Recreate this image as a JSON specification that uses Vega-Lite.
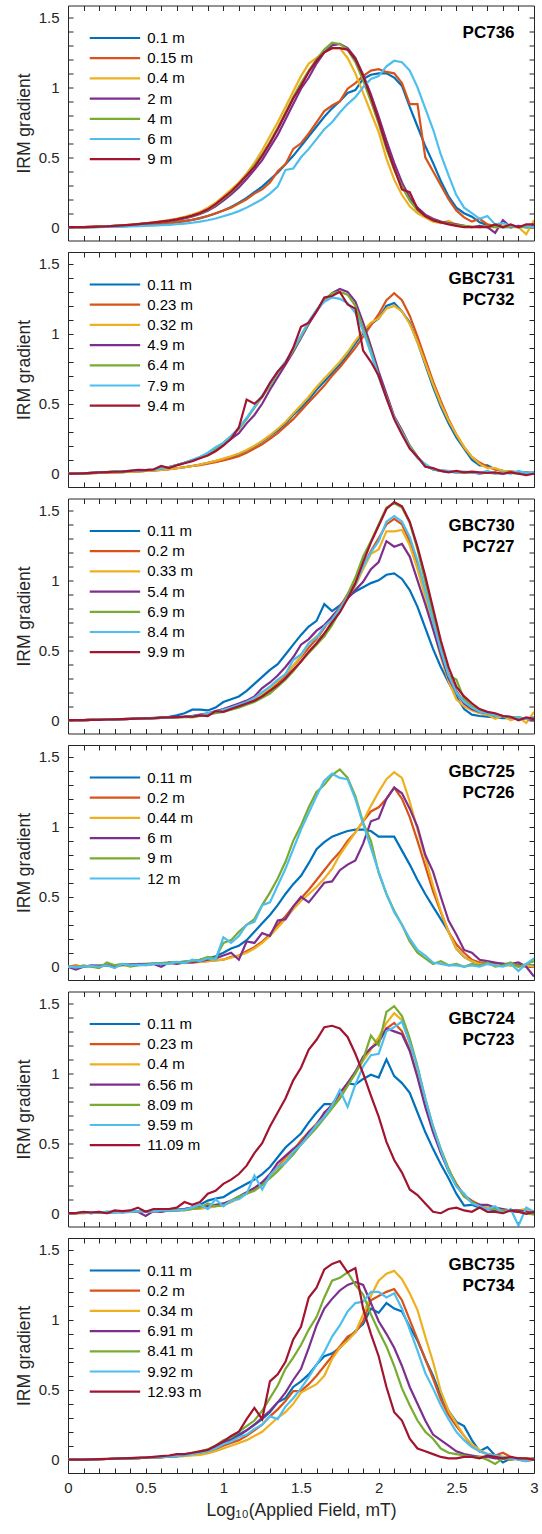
{
"$schema": "https://vega.github.io/schema/vega-lite/v6.json",
"background": "white",
"padding": {"left": 15, "top": 4.5, "right": 0, "bottom": 5},
"spacing": 11.5,
"bounds": "flush",
"config": {
  "font": "Liberation Sans",
  "view": {"stroke": null},
  "axis": {"tickSize": -5, "domainColor": "#262626", "tickColor": "#262626", "labelColor": "#262626", "titleColor": "#262626", "labelFont": "Liberation Sans", "titleFont": "Liberation Sans", "labelFontSize": 15, "titleFontSize": 17.5, "titleFontWeight": "normal", "grid": false, "domainWidth": 1, "tickWidth": 1, "labelFlush": false, "labelOverlap": false, "labelBound": false},
  "legend": {"orient": "none", "legendX": 39.45, "legendY": 25, "title": null, "symbolType": "M-6.3,0H6.3", "symbolSize": 64, "symbolStrokeWidth": 2.8, "labelFontSize": 15, "labelFont": "Liberation Sans", "labelColor": "#000000", "rowPadding": 4.2, "labelOffset": 24.8, "padding": 0},
  "line": {"strokeWidth": 2.2},
  "text": {"font": "Liberation Sans"}
},
"resolve": {"scale": {"color": "independent"}, "legend": {"color": "independent"}},
"datasets": {
"p1": [
{"x":0,"a":0,"b":0,"c":0,"d":0,"e":0,"f":0,"g":0},
{"x":0.05,"a":0,"b":0,"c":0,"d":0,"e":0,"f":0,"g":0},
{"x":0.1,"a":0,"b":0,"c":0,"d":0,"e":0,"f":0,"g":0},
{"x":0.15,"a":0.001,"b":0.001,"c":0.002,"d":0.002,"e":0.002,"f":0.001,"g":0.002},
{"x":0.2,"a":0.002,"b":0.002,"c":0.004,"d":0.004,"e":0.004,"f":0.001,"g":0.004},
{"x":0.25,"a":0.003,"b":0.003,"c":0.007,"d":0.006,"e":0.006,"f":0.002,"g":0.006},
{"x":0.3,"a":0.005,"b":0.005,"c":0.01,"d":0.009,"e":0.01,"f":0.003,"g":0.01},
{"x":0.35,"a":0.007,"b":0.007,"c":0.014,"d":0.012,"e":0.013,"f":0.004,"g":0.013},
{"x":0.4,"a":0.009,"b":0.009,"c":0.018,"d":0.016,"e":0.017,"f":0.005,"g":0.017},
{"x":0.45,"a":0.012,"b":0.012,"c":0.023,"d":0.02,"e":0.022,"f":0.007,"g":0.022},
{"x":0.5,"a":0.015,"b":0.015,"c":0.029,"d":0.025,"e":0.027,"f":0.009,"g":0.027},
{"x":0.55,"a":0.019,"b":0.019,"c":0.035,"d":0.031,"e":0.033,"f":0.011,"g":0.033},
{"x":0.6,"a":0.024,"b":0.024,"c":0.043,"d":0.037,"e":0.04,"f":0.014,"g":0.04},
{"x":0.65,"a":0.029,"b":0.029,"c":0.051,"d":0.044,"e":0.047,"f":0.017,"g":0.047},
{"x":0.7,"a":0.036,"b":0.036,"c":0.061,"d":0.052,"e":0.056,"f":0.021,"g":0.056},
{"x":0.75,"a":0.044,"b":0.044,"c":0.074,"d":0.063,"e":0.068,"f":0.026,"g":0.068},
{"x":0.8,"a":0.053,"b":0.053,"c":0.09,"d":0.077,"e":0.083,"f":0.032,"g":0.083},
{"x":0.85,"a":0.065,"b":0.065,"c":0.11,"d":0.095,"e":0.1,"f":0.04,"g":0.102},
{"x":0.9,"a":0.08,"b":0.08,"c":0.14,"d":0.118,"e":0.125,"f":0.05,"g":0.128},
{"x":0.95,"a":0.098,"b":0.1,"c":0.175,"d":0.15,"e":0.16,"f":0.062,"g":0.165},
{"x":1,"a":0.12,"b":0.12,"c":0.22,"d":0.19,"e":0.205,"f":0.078,"g":0.21},
{"x":1.05,"a":0.145,"b":0.14,"c":0.27,"d":0.235,"e":0.25,"f":0.095,"g":0.255},
{"x":1.1,"a":0.175,"b":0.17,"c":0.32,"d":0.285,"e":0.305,"f":0.115,"g":0.31},
{"x":1.15,"a":0.21,"b":0.2,"c":0.385,"d":0.345,"e":0.37,"f":0.14,"g":0.37},
{"x":1.2,"a":0.25,"b":0.24,"c":0.46,"d":0.41,"e":0.44,"f":0.17,"g":0.43},
{"x":1.25,"a":0.29,"b":0.27,"c":0.55,"d":0.48,"e":0.52,"f":0.2,"g":0.51},
{"x":1.3,"a":0.34,"b":0.32,"c":0.65,"d":0.57,"e":0.61,"f":0.24,"g":0.6},
{"x":1.35,"a":0.39,"b":0.4,"c":0.75,"d":0.66,"e":0.71,"f":0.29,"g":0.7},
{"x":1.4,"a":0.45,"b":0.45,"c":0.86,"d":0.77,"e":0.82,"f":0.41,"g":0.81},
{"x":1.45,"a":0.51,"b":0.56,"c":0.97,"d":0.88,"e":0.93,"f":0.42,"g":0.92},
{"x":1.5,"a":0.58,"b":0.6,"c":1.08,"d":0.99,"e":1.03,"f":0.5,"g":1.01},
{"x":1.55,"a":0.65,"b":0.67,"c":1.17,"d":1.07,"e":1.12,"f":0.56,"g":1.11},
{"x":1.6,"a":0.72,"b":0.75,"c":1.21,"d":1.17,"e":1.2,"f":0.63,"g":1.19},
{"x":1.65,"a":0.79,"b":0.83,"c":1.25,"d":1.25,"e":1.27,"f":0.7,"g":1.25},
{"x":1.7,"a":0.85,"b":0.87,"c":1.28,"d":1.3,"e":1.32,"f":0.75,"g":1.28},
{"x":1.75,"a":0.9,"b":0.9,"c":1.28,"d":1.31,"e":1.31,"f":0.82,"g":1.28},
{"x":1.8,"a":0.96,"b":0.99,"c":1.21,"d":1.28,"e":1.27,"f":0.88,"g":1.27},
{"x":1.85,"a":0.98,"b":1.03,"c":1.1,"d":1.21,"e":1.18,"f":0.93,"g":1.2},
{"x":1.9,"a":1.06,"b":1.08,"c":0.96,"d":1.09,"e":1.05,"f":1.0,"g":1.08},
{"x":1.95,"a":1.09,"b":1.12,"c":0.82,"d":0.95,"e":0.9,"f":1.06,"g":0.93},
{"x":2,"a":1.1,"b":1.13,"c":0.68,"d":0.79,"e":0.74,"f":1.08,"g":0.76},
{"x":2.05,"a":1.1,"b":1.11,"c":0.49,"d":0.62,"e":0.56,"f":1.15,"g":0.58},
{"x":2.1,"a":1.07,"b":1.1,"c":0.34,"d":0.46,"e":0.41,"f":1.19,"g":0.42},
{"x":2.15,"a":1.01,"b":1.03,"c":0.23,"d":0.32,"e":0.29,"f":1.18,"g":0.27},
{"x":2.2,"a":0.86,"b":0.88,"c":0.15,"d":0.21,"e":0.19,"f":1.12,"g":0.25},
{"x":2.25,"a":0.72,"b":0.88,"c":0.1,"d":0.14,"e":0.12,"f":1.0,"g":0.13},
{"x":2.3,"a":0.58,"b":0.5,"c":0.07,"d":0.09,"e":0.08,"f":0.85,"g":0.08},
{"x":2.35,"a":0.46,"b":0.4,"c":0.04,"d":0.06,"e":0.05,"f":0.7,"g":0.05},
{"x":2.4,"a":0.33,"b":0.3,"c":0.03,"d":0.04,"e":0.035,"f":0.52,"g":0.035},
{"x":2.45,"a":0.22,"b":0.2,"c":0.045,"d":0.03,"e":0.025,"f":0.37,"g":0.02},
{"x":2.5,"a":0.14,"b":0.12,"c":0.02,"d":0.02,"e":0.015,"f":0.23,"g":0.01},
{"x":2.55,"a":0.1,"b":0.07,"c":0.01,"d":0.01,"e":0.01,"f":0.14,"g":0},
{"x":2.6,"a":0.075,"b":0.04,"c":0,"d":0,"e":0.005,"f":0.1,"g":0},
{"x":2.65,"a":0.035,"b":0.06,"c":0.01,"d":0.01,"e":0,"f":0.06,"g":0},
{"x":2.7,"a":0.015,"b":0.02,"c":0,"d":0,"e":0.005,"f":0.08,"g":0},
{"x":2.75,"a":0.005,"b":0.01,"c":0,"d":-0.04,"e":0,"f":0.02,"g":0.02},
{"x":2.8,"a":0,"b":0.01,"c":0.01,"d":0.05,"e":0,"f":0.03,"g":0},
{"x":2.85,"a":0,"b":0,"c":0,"d":0,"e":0.005,"f":0.01,"g":0.02},
{"x":2.9,"a":0.005,"b":0.01,"c":0,"d":0.01,"e":0,"f":0,"g":0},
{"x":2.95,"a":0,"b":0,"c":-0.05,"d":0,"e":0,"f":0.01,"g":0.02},
{"x":3,"a":0,"b":0,"c":0.05,"d":0.01,"e":0,"f":0,"g":0.02}
],
"p2": [
{"x":0,"a":0,"b":0,"c":0,"d":0,"e":0,"f":0,"g":0},
{"x":0.05,"a":0,"b":0,"c":0,"d":0,"e":0,"f":0,"g":0},
{"x":0.1,"a":0.002,"b":0.002,"c":0.002,"d":0.003,"e":0.003,"f":0.003,"g":0.003},
{"x":0.15,"a":0.004,"b":0.004,"c":0.004,"d":0.006,"e":0.006,"f":0.006,"g":0.006},
{"x":0.2,"a":0.006,"b":0.006,"c":0.006,"d":0.009,"e":0.009,"f":0.009,"g":0.009},
{"x":0.25,"a":0.008,"b":0.008,"c":0.008,"d":0.012,"e":0.012,"f":0.012,"g":0.012},
{"x":0.3,"a":0.01,"b":0.01,"c":0.01,"d":0.015,"e":0.015,"f":0.015,"g":0.014},
{"x":0.35,"a":0.012,"b":0.012,"c":0.012,"d":0.017,"e":0.017,"f":0.017,"g":0.015},
{"x":0.4,"a":0.014,"b":0.014,"c":0.014,"d":0.02,"e":0.02,"f":0.02,"g":0.02},
{"x":0.45,"a":0.017,"b":0.017,"c":0.017,"d":0.022,"e":0.022,"f":0.022,"g":0.028},
{"x":0.5,"a":0.02,"b":0.02,"c":0.02,"d":0.025,"e":0.025,"f":0.025,"g":0.025},
{"x":0.55,"a":0.024,"b":0.024,"c":0.024,"d":0.03,"e":0.03,"f":0.03,"g":0.03},
{"x":0.6,"a":0.028,"b":0.028,"c":0.028,"d":0.038,"e":0.038,"f":0.038,"g":0.055},
{"x":0.65,"a":0.033,"b":0.033,"c":0.033,"d":0.048,"e":0.048,"f":0.048,"g":0.04},
{"x":0.7,"a":0.039,"b":0.039,"c":0.039,"d":0.062,"e":0.062,"f":0.062,"g":0.06},
{"x":0.75,"a":0.046,"b":0.046,"c":0.046,"d":0.078,"e":0.078,"f":0.078,"g":0.075},
{"x":0.8,"a":0.055,"b":0.055,"c":0.055,"d":0.095,"e":0.095,"f":0.1,"g":0.09},
{"x":0.85,"a":0.065,"b":0.062,"c":0.066,"d":0.115,"e":0.12,"f":0.12,"g":0.11},
{"x":0.9,"a":0.077,"b":0.072,"c":0.078,"d":0.14,"e":0.145,"f":0.15,"g":0.13},
{"x":0.95,"a":0.09,"b":0.083,"c":0.092,"d":0.17,"e":0.18,"f":0.19,"g":0.16},
{"x":1,"a":0.105,"b":0.095,"c":0.108,"d":0.21,"e":0.22,"f":0.22,"g":0.2},
{"x":1.05,"a":0.12,"b":0.11,"c":0.125,"d":0.25,"e":0.27,"f":0.27,"g":0.25},
{"x":1.1,"a":0.14,"b":0.125,"c":0.145,"d":0.29,"e":0.32,"f":0.33,"g":0.33},
{"x":1.15,"a":0.165,"b":0.15,"c":0.17,"d":0.36,"e":0.39,"f":0.4,"g":0.53},
{"x":1.2,"a":0.195,"b":0.18,"c":0.2,"d":0.42,"e":0.47,"f":0.48,"g":0.5},
{"x":1.25,"a":0.23,"b":0.21,"c":0.235,"d":0.5,"e":0.55,"f":0.56,"g":0.55},
{"x":1.3,"a":0.27,"b":0.25,"c":0.275,"d":0.6,"e":0.63,"f":0.64,"g":0.65},
{"x":1.35,"a":0.31,"b":0.29,"c":0.32,"d":0.69,"e":0.72,"f":0.73,"g":0.73},
{"x":1.4,"a":0.36,"b":0.34,"c":0.37,"d":0.78,"e":0.8,"f":0.8,"g":0.79},
{"x":1.45,"a":0.42,"b":0.39,"c":0.43,"d":0.87,"e":0.88,"f":0.89,"g":0.9},
{"x":1.5,"a":0.47,"b":0.45,"c":0.49,"d":0.97,"e":0.98,"f":0.99,"g":1.05},
{"x":1.55,"a":0.53,"b":0.51,"c":0.55,"d":1.07,"e":1.08,"f":1.09,"g":1.08},
{"x":1.6,"a":0.6,"b":0.57,"c":0.62,"d":1.16,"e":1.17,"f":1.17,"g":1.16},
{"x":1.65,"a":0.66,"b":0.63,"c":0.68,"d":1.24,"e":1.24,"f":1.23,"g":1.26},
{"x":1.7,"a":0.72,"b":0.7,"c":0.74,"d":1.29,"e":1.29,"f":1.26,"g":1.27},
{"x":1.75,"a":0.78,"b":0.76,"c":0.8,"d":1.32,"e":1.3,"f":1.25,"g":1.3},
{"x":1.8,"a":0.85,"b":0.83,"c":0.87,"d":1.3,"e":1.28,"f":1.22,"g":1.21},
{"x":1.85,"a":0.93,"b":0.9,"c":0.95,"d":1.23,"e":1.2,"f":1.15,"g":1.18},
{"x":1.9,"a":1.01,"b":0.98,"c":1.02,"d":1.08,"e":1.04,"f":1.02,"g":0.88},
{"x":1.95,"a":1.07,"b":1.06,"c":1.08,"d":0.91,"e":0.88,"f":0.86,"g":0.8},
{"x":2,"a":1.11,"b":1.14,"c":1.11,"d":0.73,"e":0.7,"f":0.69,"g":0.7},
{"x":2.05,"a":1.2,"b":1.24,"c":1.18,"d":0.57,"e":0.55,"f":0.54,"g":0.54},
{"x":2.1,"a":1.22,"b":1.29,"c":1.2,"d":0.41,"e":0.4,"f":0.4,"g":0.39},
{"x":2.15,"a":1.16,"b":1.24,"c":1.16,"d":0.31,"e":0.3,"f":0.29,"g":0.28},
{"x":2.2,"a":1.08,"b":1.13,"c":1.07,"d":0.2,"e":0.2,"f":0.19,"g":0.18},
{"x":2.25,"a":0.94,"b":0.98,"c":0.94,"d":0.12,"e":0.12,"f":0.11,"g":0.12},
{"x":2.3,"a":0.78,"b":0.82,"c":0.79,"d":0.06,"e":0.06,"f":0.07,"g":0.05},
{"x":2.35,"a":0.62,"b":0.66,"c":0.64,"d":0.03,"e":0.03,"f":0.03,"g":0.04},
{"x":2.4,"a":0.48,"b":0.52,"c":0.5,"d":0.02,"e":0.02,"f":0.025,"g":0.02},
{"x":2.45,"a":0.36,"b":0.39,"c":0.38,"d":0.015,"e":0.015,"f":0.02,"g":0.01},
{"x":2.5,"a":0.26,"b":0.28,"c":0.28,"d":0.01,"e":0.012,"f":0.01,"g":0.02},
{"x":2.55,"a":0.18,"b":0.19,"c":0.19,"d":0.01,"e":0.01,"f":0.015,"g":0.01},
{"x":2.6,"a":0.1,"b":0.12,"c":0.12,"d":0.01,"e":0.01,"f":0.01,"g":0.015},
{"x":2.65,"a":0.06,"b":0.08,"c":0.07,"d":0,"e":0.005,"f":0.005,"g":0.01},
{"x":2.7,"a":0.06,"b":0.05,"c":0.04,"d":0.01,"e":0.01,"f":0.02,"g":0.005},
{"x":2.75,"a":0.03,"b":0.03,"c":0.04,"d":0.005,"e":0,"f":0,"g":0.01},
{"x":2.8,"a":0.02,"b":0.02,"c":0.02,"d":0,"e":0.01,"f":0.01,"g":0},
{"x":2.85,"a":0.015,"b":0.015,"c":0.015,"d":0.01,"e":0.005,"f":0,"g":0.01},
{"x":2.9,"a":0.01,"b":0.01,"c":0.01,"d":0.005,"e":0,"f":0.02,"g":0},
{"x":2.95,"a":0.01,"b":0.005,"c":0.005,"d":0,"e":0.01,"f":0.005,"g":-0.01},
{"x":3,"a":0.005,"b":0,"c":0,"d":0.01,"e":0,"f":0.01,"g":0}
],
"p3": [
{"x":0,"a":0,"b":0,"c":0,"d":0,"e":0,"f":0,"g":0},
{"x":0.05,"a":0,"b":0,"c":0,"d":0,"e":0,"f":0,"g":0},
{"x":0.1,"a":0,"b":0,"c":0,"d":0,"e":0,"f":0,"g":0},
{"x":0.15,"a":0.002,"b":0.002,"c":0.002,"d":0.002,"e":0.002,"f":0.002,"g":0.002},
{"x":0.2,"a":0.003,"b":0.003,"c":0.003,"d":0.003,"e":0.003,"f":0.003,"g":0.003},
{"x":0.25,"a":0.005,"b":0.005,"c":0.005,"d":0.005,"e":0.005,"f":0.005,"g":0.005},
{"x":0.3,"a":0.006,"b":0.006,"c":0.006,"d":0.006,"e":0.006,"f":0.006,"g":0.006},
{"x":0.35,"a":0.008,"b":0.008,"c":0.008,"d":0.008,"e":0.008,"f":0.008,"g":0.008},
{"x":0.4,"a":0.01,"b":0.009,"c":0.009,"d":0.009,"e":0.009,"f":0.009,"g":0.009},
{"x":0.45,"a":0.012,"b":0.011,"c":0.011,"d":0.011,"e":0.011,"f":0.011,"g":0.012},
{"x":0.5,"a":0.014,"b":0.012,"c":0.012,"d":0.012,"e":0.012,"f":0.012,"g":0.013},
{"x":0.55,"a":0.017,"b":0.014,"c":0.014,"d":0.014,"e":0.014,"f":0.014,"g":0.014},
{"x":0.6,"a":0.02,"b":0.016,"c":0.016,"d":0.016,"e":0.016,"f":0.016,"g":0.018},
{"x":0.65,"a":0.024,"b":0.018,"c":0.018,"d":0.018,"e":0.018,"f":0.018,"g":0.02},
{"x":0.7,"a":0.035,"b":0.021,"c":0.021,"d":0.021,"e":0.021,"f":0.021,"g":0.022},
{"x":0.75,"a":0.05,"b":0.024,"c":0.024,"d":0.024,"e":0.024,"f":0.024,"g":0.025},
{"x":0.8,"a":0.075,"b":0.03,"c":0.03,"d":0.03,"e":0.02,"f":0.03,"g":0.025},
{"x":0.85,"a":0.075,"b":0.035,"c":0.035,"d":0.04,"e":0.03,"f":0.035,"g":0.035},
{"x":0.9,"a":0.07,"b":0.045,"c":0.045,"d":0.05,"e":0.04,"f":0.05,"g":0.03},
{"x":0.95,"a":0.09,"b":0.055,"c":0.055,"d":0.065,"e":0.05,"f":0.06,"g":0.065},
{"x":1,"a":0.13,"b":0.065,"c":0.065,"d":0.08,"e":0.06,"f":0.075,"g":0.06},
{"x":1.05,"a":0.15,"b":0.08,"c":0.08,"d":0.1,"e":0.075,"f":0.09,"g":0.08},
{"x":1.1,"a":0.17,"b":0.1,"c":0.1,"d":0.12,"e":0.09,"f":0.11,"g":0.1},
{"x":1.15,"a":0.21,"b":0.12,"c":0.12,"d":0.14,"e":0.11,"f":0.13,"g":0.12},
{"x":1.2,"a":0.26,"b":0.15,"c":0.15,"d":0.17,"e":0.13,"f":0.16,"g":0.14},
{"x":1.25,"a":0.31,"b":0.18,"c":0.19,"d":0.23,"e":0.16,"f":0.2,"g":0.17},
{"x":1.3,"a":0.36,"b":0.22,"c":0.23,"d":0.27,"e":0.19,"f":0.24,"g":0.21},
{"x":1.35,"a":0.4,"b":0.27,"c":0.28,"d":0.32,"e":0.24,"f":0.29,"g":0.25},
{"x":1.4,"a":0.47,"b":0.32,"c":0.33,"d":0.38,"e":0.29,"f":0.33,"g":0.3},
{"x":1.45,"a":0.54,"b":0.39,"c":0.39,"d":0.45,"e":0.35,"f":0.43,"g":0.36},
{"x":1.5,"a":0.61,"b":0.45,"c":0.46,"d":0.54,"e":0.42,"f":0.47,"g":0.42},
{"x":1.55,"a":0.67,"b":0.52,"c":0.55,"d":0.58,"e":0.48,"f":0.55,"g":0.49},
{"x":1.6,"a":0.71,"b":0.58,"c":0.6,"d":0.64,"e":0.54,"f":0.59,"g":0.55},
{"x":1.65,"a":0.83,"b":0.66,"c":0.6,"d":0.68,"e":0.6,"f":0.67,"g":0.62},
{"x":1.7,"a":0.78,"b":0.74,"c":0.72,"d":0.74,"e":0.68,"f":0.72,"g":0.7},
{"x":1.75,"a":0.82,"b":0.81,"c":0.79,"d":0.8,"e":0.78,"f":0.8,"g":0.77},
{"x":1.8,"a":0.88,"b":0.9,"c":0.87,"d":0.87,"e":0.9,"f":0.88,"g":0.87},
{"x":1.85,"a":0.92,"b":0.98,"c":0.96,"d":0.93,"e":1.02,"f":0.97,"g":0.98},
{"x":1.9,"a":0.95,"b":1.1,"c":1.08,"d":0.99,"e":1.17,"f":1.1,"g":1.13},
{"x":1.95,"a":0.98,"b":1.21,"c":1.19,"d":1.08,"e":1.28,"f":1.2,"g":1.27},
{"x":2,"a":1.0,"b":1.3,"c":1.22,"d":1.13,"e":1.4,"f":1.28,"g":1.39},
{"x":2.05,"a":1.04,"b":1.4,"c":1.35,"d":1.28,"e":1.52,"f":1.42,"g":1.51},
{"x":2.1,"a":1.05,"b":1.44,"c":1.35,"d":1.24,"e":1.55,"f":1.46,"g":1.56},
{"x":2.15,"a":1.01,"b":1.4,"c":1.36,"d":1.26,"e":1.52,"f":1.42,"g":1.53},
{"x":2.2,"a":0.93,"b":1.28,"c":1.25,"d":1.17,"e":1.41,"f":1.31,"g":1.42},
{"x":2.25,"a":0.81,"b":1.12,"c":1.08,"d":1.0,"e":1.22,"f":1.14,"g":1.24},
{"x":2.3,"a":0.66,"b":0.92,"c":0.88,"d":0.83,"e":0.99,"f":0.93,"g":1.03},
{"x":2.35,"a":0.51,"b":0.7,"c":0.66,"d":0.65,"e":0.76,"f":0.71,"g":0.8},
{"x":2.4,"a":0.38,"b":0.5,"c":0.45,"d":0.47,"e":0.53,"f":0.5,"g":0.57},
{"x":2.45,"a":0.27,"b":0.33,"c":0.28,"d":0.3,"e":0.32,"f":0.32,"g":0.38},
{"x":2.5,"a":0.17,"b":0.21,"c":0.15,"d":0.2,"e":0.29,"f":0.2,"g":0.24},
{"x":2.55,"a":0.08,"b":0.13,"c":0.1,"d":0.12,"e":0.15,"f":0.13,"g":0.17},
{"x":2.6,"a":0.04,"b":0.09,"c":0.07,"d":0.08,"e":0.1,"f":0.09,"g":0.12},
{"x":2.65,"a":0.03,"b":0.06,"c":0.05,"d":0.06,"e":0.07,"f":0.06,"g":0.08},
{"x":2.7,"a":0.025,"b":0.05,"c":0.04,"d":0.05,"e":0.05,"f":0.05,"g":0.06},
{"x":2.75,"a":0.02,"b":0.04,"c":0.01,"d":0.03,"e":0.04,"f":0.03,"g":0.05},
{"x":2.8,"a":0.015,"b":0.03,"c":0.03,"d":0.03,"e":0.03,"f":0.03,"g":0.03},
{"x":2.85,"a":0.015,"b":0.02,"c":0,"d":0.02,"e":0.02,"f":0.02,"g":0.025},
{"x":2.9,"a":0.01,"b":0.02,"c":0.02,"d":0.01,"e":0.02,"f":0.02,"g":0},
{"x":2.95,"a":0.01,"b":0.01,"c":-0.02,"d":0.01,"e":0.01,"f":0.01,"g":0.02},
{"x":3,"a":0.01,"b":0.01,"c":0.06,"d":0,"e":0.02,"f":0.02,"g":0.01}
],
"p4": [
{"x":0,"a":0,"b":0,"c":0,"d":0,"e":0,"f":0},
{"x":0.05,"a":0,"b":0.01,"c":0,"d":-0.02,"e":-0.005,"f":-0.005},
{"x":0.1,"a":0.005,"b":0,"c":0.005,"d":0,"e":0.01,"f":0},
{"x":0.15,"a":0.005,"b":0.005,"c":0,"d":0.01,"e":0,"f":0.005},
{"x":0.2,"a":0.01,"b":0,"c":0.01,"d":0.005,"e":-0.01,"f":0},
{"x":0.25,"a":0.01,"b":0.01,"c":0.005,"d":0.01,"e":0.03,"f":0.01},
{"x":0.3,"a":0.012,"b":0.01,"c":0.01,"d":0,"e":0.01,"f":-0.01},
{"x":0.35,"a":0.014,"b":0.012,"c":0.012,"d":0.015,"e":0.02,"f":0.02},
{"x":0.4,"a":0.016,"b":0.015,"c":0.01,"d":0.01,"e":0,"f":0.01},
{"x":0.45,"a":0.018,"b":0.015,"c":0.015,"d":0.02,"e":0.01,"f":0.015},
{"x":0.5,"a":0.02,"b":0.018,"c":0.015,"d":0.015,"e":0.015,"f":0.01},
{"x":0.55,"a":0.022,"b":0.02,"c":0.02,"d":0.02,"e":0.02,"f":0.02},
{"x":0.6,"a":0.025,"b":0.02,"c":0.02,"d":0,"e":0.025,"f":0.02},
{"x":0.65,"a":0.028,"b":0.025,"c":0.022,"d":0.03,"e":0.03,"f":0.02},
{"x":0.7,"a":0.032,"b":0.025,"c":0.025,"d":0.02,"e":0.03,"f":0.035},
{"x":0.75,"a":0.036,"b":0.03,"c":0.028,"d":0.03,"e":0.035,"f":0.025},
{"x":0.8,"a":0.04,"b":0.03,"c":0.03,"d":0.03,"e":0.04,"f":0.05},
{"x":0.85,"a":0.05,"b":0.035,"c":0.035,"d":0.04,"e":0.05,"f":0.04},
{"x":0.9,"a":0.06,"b":0.04,"c":0.04,"d":0.05,"e":0.07,"f":0.06},
{"x":0.95,"a":0.075,"b":0.045,"c":0.045,"d":0.06,"e":0.06,"f":0.05},
{"x":1,"a":0.1,"b":0.05,"c":0.05,"d":0.08,"e":0.17,"f":0.21},
{"x":1.05,"a":0.13,"b":0.07,"c":0.065,"d":0.1,"e":0.19,"f":0.17},
{"x":1.1,"a":0.15,"b":0.08,"c":0.08,"d":0.05,"e":0.25,"f":0.22},
{"x":1.15,"a":0.19,"b":0.11,"c":0.1,"d":0.18,"e":0.3,"f":0.3},
{"x":1.2,"a":0.25,"b":0.14,"c":0.13,"d":0.17,"e":0.34,"f":0.32},
{"x":1.25,"a":0.31,"b":0.18,"c":0.17,"d":0.24,"e":0.44,"f":0.44},
{"x":1.3,"a":0.37,"b":0.23,"c":0.22,"d":0.22,"e":0.53,"f":0.46},
{"x":1.35,"a":0.44,"b":0.3,"c":0.28,"d":0.33,"e":0.63,"f":0.58},
{"x":1.4,"a":0.52,"b":0.36,"c":0.34,"d":0.34,"e":0.75,"f":0.7},
{"x":1.45,"a":0.59,"b":0.43,"c":0.41,"d":0.43,"e":0.9,"f":0.84},
{"x":1.5,"a":0.65,"b":0.49,"c":0.47,"d":0.5,"e":1.01,"f":0.98},
{"x":1.55,"a":0.74,"b":0.55,"c":0.52,"d":0.46,"e":1.14,"f":1.1},
{"x":1.6,"a":0.84,"b":0.62,"c":0.57,"d":0.53,"e":1.25,"f":1.22},
{"x":1.65,"a":0.89,"b":0.69,"c":0.63,"d":0.6,"e":1.3,"f":1.33},
{"x":1.7,"a":0.93,"b":0.76,"c":0.7,"d":0.61,"e":1.37,"f":1.38},
{"x":1.75,"a":0.95,"b":0.82,"c":0.8,"d":0.69,"e":1.41,"f":1.35},
{"x":1.8,"a":0.97,"b":0.9,"c":0.88,"d":0.73,"e":1.35,"f":1.34},
{"x":1.85,"a":0.98,"b":0.96,"c":0.96,"d":0.76,"e":1.22,"f":1.2},
{"x":1.9,"a":0.98,"b":1.04,"c":1.04,"d":0.88,"e":1.03,"f":1.02},
{"x":1.95,"a":0.97,"b":1.11,"c":1.15,"d":1.04,"e":0.9,"f":0.85},
{"x":2,"a":0.93,"b":1.14,"c":1.25,"d":1.06,"e":0.67,"f":0.68},
{"x":2.05,"a":0.93,"b":1.2,"c":1.34,"d":1.2,"e":0.52,"f":0.52},
{"x":2.1,"a":0.93,"b":1.28,"c":1.39,"d":1.28,"e":0.4,"f":0.39},
{"x":2.15,"a":0.83,"b":1.2,"c":1.35,"d":1.24,"e":0.3,"f":0.3},
{"x":2.2,"a":0.73,"b":1.07,"c":1.18,"d":1.13,"e":0.18,"f":0.2},
{"x":2.25,"a":0.62,"b":0.9,"c":0.98,"d":1.0,"e":0.1,"f":0.12},
{"x":2.3,"a":0.52,"b":0.72,"c":0.78,"d":0.8,"e":0.06,"f":0.08},
{"x":2.35,"a":0.43,"b":0.54,"c":0.58,"d":0.68,"e":0.02,"f":0.03},
{"x":2.4,"a":0.34,"b":0.39,"c":0.4,"d":0.5,"e":0.04,"f":0.02},
{"x":2.45,"a":0.25,"b":0.25,"c":0.25,"d":0.33,"e":0.01,"f":0.01},
{"x":2.5,"a":0.13,"b":0.16,"c":0.13,"d":0.23,"e":0.02,"f":0.01},
{"x":2.55,"a":0.07,"b":0.1,"c":0.07,"d":0.12,"e":0,"f":0},
{"x":2.6,"a":0.04,"b":0.05,"c":0.04,"d":0.1,"e":0.02,"f":0.01},
{"x":2.65,"a":0.03,"b":0.03,"c":0.02,"d":0.05,"e":0.01,"f":0},
{"x":2.7,"a":0.02,"b":0.03,"c":0.02,"d":0.04,"e":0.03,"f":0.02},
{"x":2.75,"a":0.02,"b":0.02,"c":0.01,"d":0.03,"e":0,"f":0.01},
{"x":2.8,"a":0.02,"b":0.02,"c":0.01,"d":0.02,"e":0.01,"f":0},
{"x":2.85,"a":0.015,"b":0.01,"c":0.01,"d":0.02,"e":0.03,"f":0.02},
{"x":2.9,"a":0.01,"b":0.01,"c":0,"d":0.03,"e":0,"f":-0.03},
{"x":2.95,"a":0.01,"b":0,"c":0.01,"d":0,"e":0.02,"f":0.02},
{"x":3,"a":0.01,"b":0,"c":0,"d":-0.07,"e":0.04,"f":0.06}
],
"p5": [
{"x":0,"a":0,"b":0,"c":0,"d":0,"e":0,"f":0,"g":0},
{"x":0.05,"a":0,"b":0,"c":0,"d":0,"e":0,"f":0,"g":0},
{"x":0.1,"a":0.005,"b":0,"c":0,"d":0.005,"e":0.005,"f":0.005,"g":0.01},
{"x":0.15,"a":0.005,"b":0.005,"c":0.005,"d":0,"e":0,"f":0,"g":0.005},
{"x":0.2,"a":0.005,"b":0.005,"c":0.005,"d":0.01,"e":0.005,"f":0.005,"g":0.01},
{"x":0.25,"a":0.01,"b":0.005,"c":0.005,"d":0,"e":0.01,"f":0.01,"g":0},
{"x":0.3,"a":0.01,"b":0.01,"c":0.01,"d":0.01,"e":0.005,"f":0.005,"g":0.02},
{"x":0.35,"a":0.01,"b":0.01,"c":0.01,"d":0.005,"e":0.01,"f":0.01,"g":0.015},
{"x":0.4,"a":0.012,"b":0.01,"c":0.01,"d":0.01,"e":0.01,"f":0.01,"g":0.02},
{"x":0.45,"a":0.012,"b":0.012,"c":0.012,"d":0.01,"e":0.015,"f":0.015,"g":0.04},
{"x":0.5,"a":0.015,"b":0.012,"c":0.012,"d":-0.02,"e":0.01,"f":0.01,"g":0.01},
{"x":0.55,"a":0.015,"b":0.015,"c":0.015,"d":0.015,"e":0.015,"f":0.015,"g":0.03},
{"x":0.6,"a":0.02,"b":0.015,"c":0.015,"d":0.01,"e":0.02,"f":0.02,"g":0.03},
{"x":0.65,"a":0.022,"b":0.018,"c":0.018,"d":0.02,"e":0.02,"f":0.02,"g":0.03},
{"x":0.7,"a":0.025,"b":0.02,"c":0.02,"d":0.02,"e":0.02,"f":0.02,"g":0.04},
{"x":0.75,"a":0.03,"b":0.025,"c":0.025,"d":0.03,"e":0.02,"f":0.025,"g":0.08},
{"x":0.8,"a":0.04,"b":0.03,"c":0.03,"d":0.04,"e":0.03,"f":0.04,"g":0.06},
{"x":0.85,"a":0.06,"b":0.035,"c":0.035,"d":0.05,"e":0.04,"f":0.06,"g":0.08},
{"x":0.9,"a":0.09,"b":0.04,"c":0.04,"d":0.05,"e":0.07,"f":0.03,"g":0.14},
{"x":0.95,"a":0.105,"b":0.05,"c":0.05,"d":0.06,"e":0.05,"f":0.1,"g":0.16},
{"x":1,"a":0.115,"b":0.06,"c":0.06,"d":0.07,"e":0.055,"f":0.05,"g":0.21},
{"x":1.05,"a":0.15,"b":0.08,"c":0.08,"d":0.09,"e":0.09,"f":0.09,"g":0.24},
{"x":1.1,"a":0.18,"b":0.11,"c":0.11,"d":0.12,"e":0.12,"f":0.1,"g":0.28},
{"x":1.15,"a":0.21,"b":0.14,"c":0.14,"d":0.15,"e":0.14,"f":0.14,"g":0.34},
{"x":1.2,"a":0.24,"b":0.18,"c":0.17,"d":0.18,"e":0.16,"f":0.27,"g":0.43},
{"x":1.25,"a":0.28,"b":0.22,"c":0.21,"d":0.22,"e":0.2,"f":0.17,"g":0.5},
{"x":1.3,"a":0.33,"b":0.27,"c":0.26,"d":0.28,"e":0.25,"f":0.27,"g":0.62},
{"x":1.35,"a":0.4,"b":0.33,"c":0.32,"d":0.36,"e":0.3,"f":0.33,"g":0.72},
{"x":1.4,"a":0.47,"b":0.39,"c":0.38,"d":0.41,"e":0.36,"f":0.36,"g":0.82},
{"x":1.45,"a":0.52,"b":0.45,"c":0.44,"d":0.46,"e":0.42,"f":0.44,"g":0.95},
{"x":1.5,"a":0.57,"b":0.52,"c":0.5,"d":0.5,"e":0.49,"f":0.49,"g":1.04},
{"x":1.55,"a":0.65,"b":0.58,"c":0.57,"d":0.58,"e":0.55,"f":0.56,"g":1.17},
{"x":1.6,"a":0.72,"b":0.64,"c":0.63,"d":0.63,"e":0.61,"f":0.63,"g":1.24},
{"x":1.65,"a":0.78,"b":0.71,"c":0.7,"d":0.72,"e":0.68,"f":0.69,"g":1.33},
{"x":1.7,"a":0.78,"b":0.78,"c":0.77,"d":0.77,"e":0.75,"f":0.77,"g":1.34},
{"x":1.75,"a":0.84,"b":0.85,"c":0.84,"d":0.86,"e":0.82,"f":0.88,"g":1.32},
{"x":1.8,"a":0.93,"b":0.93,"c":0.92,"d":0.93,"e":0.91,"f":0.76,"g":1.26},
{"x":1.85,"a":0.92,"b":1.01,"c":1.0,"d":1.01,"e":1.0,"f":0.92,"g":1.14},
{"x":1.9,"a":0.96,"b":1.1,"c":1.09,"d":1.12,"e":1.1,"f":1.05,"g":1.0},
{"x":1.95,"a":0.99,"b":1.18,"c":1.17,"d":1.18,"e":1.27,"f":1.13,"g":0.84},
{"x":2,"a":0.97,"b":1.24,"c":1.26,"d":1.22,"e":1.2,"f":1.14,"g":0.69},
{"x":2.05,"a":1.1,"b":1.32,"c":1.36,"d":1.32,"e":1.44,"f":1.3,"g":0.51},
{"x":2.1,"a":0.98,"b":1.36,"c":1.43,"d":1.3,"e":1.48,"f":1.33,"g":0.38},
{"x":2.15,"a":0.93,"b":1.3,"c":1.38,"d":1.28,"e":1.41,"f":1.37,"g":0.29},
{"x":2.2,"a":0.86,"b":1.17,"c":1.22,"d":1.16,"e":1.25,"f":1.22,"g":0.17},
{"x":2.25,"a":0.72,"b":0.99,"c":1.02,"d":0.97,"e":1.05,"f":1.04,"g":0.13},
{"x":2.3,"a":0.58,"b":0.78,"c":0.8,"d":0.76,"e":0.82,"f":0.82,"g":0.07},
{"x":2.35,"a":0.46,"b":0.6,"c":0.6,"d":0.58,"e":0.62,"f":0.62,"g":0.01},
{"x":2.4,"a":0.35,"b":0.45,"c":0.44,"d":0.43,"e":0.46,"f":0.45,"g":0},
{"x":2.45,"a":0.25,"b":0.31,"c":0.3,"d":0.3,"e":0.32,"f":0.3,"g":0.03},
{"x":2.5,"a":0.14,"b":0.21,"c":0.2,"d":0.2,"e":0.2,"f":0.19,"g":0.04},
{"x":2.55,"a":0.055,"b":0.13,"c":0.12,"d":0.13,"e":0.12,"f":0.14,"g":0.02},
{"x":2.6,"a":0.06,"b":0.09,"c":0.08,"d":0.08,"e":0.08,"f":0.07,"g":0.01},
{"x":2.65,"a":0.04,"b":0.06,"c":0.06,"d":0.06,"e":0.05,"f":0.05,"g":0.04},
{"x":2.7,"a":0.03,"b":0.04,"c":0.04,"d":0.06,"e":0.03,"f":0.03,"g":0.01},
{"x":2.75,"a":0.02,"b":0.03,"c":0.03,"d":0.04,"e":0.03,"f":0.05,"g":0.01},
{"x":2.8,"a":0.02,"b":0.02,"c":0.02,"d":0.03,"e":0.02,"f":0,"g":0},
{"x":2.85,"a":0.015,"b":0.02,"c":0.02,"d":0.02,"e":0.02,"f":0.03,"g":0.02},
{"x":2.9,"a":0.01,"b":0.01,"c":0.02,"d":0.02,"e":0.01,"f":-0.09,"g":0.01},
{"x":2.95,"a":0.01,"b":0.02,"c":0.03,"d":0.01,"e":0,"f":0.04,"g":-0.005},
{"x":3,"a":0.01,"b":0.01,"c":0,"d":0,"e":-0.01,"f":0.01,"g":0.01}
],
"p6": [
{"x":0,"a":0,"b":0,"c":0,"d":0,"e":0,"f":0,"g":0},
{"x":0.05,"a":0,"b":0,"c":0,"d":0,"e":0,"f":0,"g":0},
{"x":0.1,"a":0,"b":0,"c":0,"d":0,"e":0,"f":0,"g":0},
{"x":0.15,"a":0.002,"b":0.002,"c":0.002,"d":0.002,"e":0.002,"f":0.002,"g":0.002},
{"x":0.2,"a":0.004,"b":0.004,"c":0.004,"d":0.004,"e":0.004,"f":0.004,"g":0.004},
{"x":0.25,"a":0.005,"b":0.005,"c":0.005,"d":0.005,"e":0.005,"f":0.005,"g":0.006},
{"x":0.3,"a":0.006,"b":0.006,"c":0.006,"d":0.006,"e":0.006,"f":0.006,"g":0.008},
{"x":0.35,"a":0.008,"b":0.008,"c":0.008,"d":0.008,"e":0.008,"f":0.008,"g":0.01},
{"x":0.4,"a":0.01,"b":0.01,"c":0.01,"d":0.01,"e":0.01,"f":0.01,"g":0.012},
{"x":0.45,"a":0.012,"b":0.012,"c":0.012,"d":0.012,"e":0.012,"f":0.012,"g":0.015},
{"x":0.5,"a":0.014,"b":0.014,"c":0.014,"d":0.014,"e":0.014,"f":0.014,"g":0.015},
{"x":0.55,"a":0.016,"b":0.016,"c":0.016,"d":0.016,"e":0.016,"f":0.016,"g":0.02},
{"x":0.6,"a":0.019,"b":0.019,"c":0.019,"d":0.019,"e":0.019,"f":0.019,"g":0.025},
{"x":0.65,"a":0.022,"b":0.022,"c":0.02,"d":0.022,"e":0.024,"f":0.022,"g":0.03},
{"x":0.7,"a":0.026,"b":0.026,"c":0.022,"d":0.026,"e":0.03,"f":0.026,"g":0.04},
{"x":0.75,"a":0.03,"b":0.03,"c":0.025,"d":0.035,"e":0.036,"f":0.03,"g":0.04},
{"x":0.8,"a":0.04,"b":0.035,"c":0.03,"d":0.045,"e":0.05,"f":0.04,"g":0.05},
{"x":0.85,"a":0.05,"b":0.045,"c":0.035,"d":0.055,"e":0.06,"f":0.05,"g":0.06},
{"x":0.9,"a":0.065,"b":0.055,"c":0.045,"d":0.07,"e":0.075,"f":0.06,"g":0.07},
{"x":0.95,"a":0.09,"b":0.075,"c":0.06,"d":0.09,"e":0.1,"f":0.08,"g":0.1},
{"x":1,"a":0.12,"b":0.1,"c":0.08,"d":0.12,"e":0.14,"f":0.11,"g":0.13},
{"x":1.05,"a":0.15,"b":0.12,"c":0.1,"d":0.14,"e":0.16,"f":0.13,"g":0.17},
{"x":1.1,"a":0.18,"b":0.14,"c":0.12,"d":0.17,"e":0.2,"f":0.16,"g":0.2},
{"x":1.15,"a":0.21,"b":0.17,"c":0.14,"d":0.21,"e":0.24,"f":0.18,"g":0.29},
{"x":1.2,"a":0.25,"b":0.21,"c":0.17,"d":0.25,"e":0.28,"f":0.22,"g":0.37},
{"x":1.25,"a":0.29,"b":0.25,"c":0.2,"d":0.3,"e":0.35,"f":0.25,"g":0.29},
{"x":1.3,"a":0.34,"b":0.31,"c":0.25,"d":0.35,"e":0.44,"f":0.31,"g":0.56},
{"x":1.35,"a":0.41,"b":0.36,"c":0.3,"d":0.41,"e":0.53,"f":0.29,"g":0.61},
{"x":1.4,"a":0.44,"b":0.42,"c":0.34,"d":0.48,"e":0.65,"f":0.38,"g":0.7},
{"x":1.45,"a":0.52,"b":0.49,"c":0.4,"d":0.57,"e":0.73,"f":0.44,"g":0.86},
{"x":1.5,"a":0.56,"b":0.49,"c":0.48,"d":0.65,"e":0.82,"f":0.51,"g":0.95},
{"x":1.55,"a":0.61,"b":0.54,"c":0.51,"d":0.8,"e":0.93,"f":0.59,"g":1.16},
{"x":1.6,"a":0.68,"b":0.6,"c":0.54,"d":0.96,"e":1.02,"f":0.68,"g":1.23},
{"x":1.65,"a":0.74,"b":0.67,"c":0.6,"d":1.08,"e":1.16,"f":0.77,"g":1.36},
{"x":1.7,"a":0.76,"b":0.74,"c":0.72,"d":1.15,"e":1.28,"f":0.88,"g":1.4},
{"x":1.75,"a":0.8,"b":0.81,"c":0.8,"d":1.21,"e":1.3,"f":0.96,"g":1.42},
{"x":1.8,"a":0.86,"b":0.88,"c":0.85,"d":1.25,"e":1.34,"f":1.06,"g":1.34},
{"x":1.85,"a":0.92,"b":0.91,"c":0.91,"d":1.27,"e":1.25,"f":1.12,"g":1.37},
{"x":1.9,"a":0.97,"b":0.99,"c":1.04,"d":1.25,"e":1.18,"f":1.13,"g":1.08},
{"x":1.95,"a":1.08,"b":1.14,"c":1.17,"d":1.12,"e":1.04,"f":1.2,"g":0.9},
{"x":2,"a":1.05,"b":1.17,"c":1.28,"d":0.99,"e":0.92,"f":1.2,"g":0.74},
{"x":2.05,"a":1.12,"b":1.2,"c":1.33,"d":0.9,"e":0.81,"f":1.16,"g":0.52},
{"x":2.1,"a":1.08,"b":1.22,"c":1.35,"d":0.8,"e":0.67,"f":1.19,"g":0.34},
{"x":2.15,"a":1.06,"b":1.14,"c":1.29,"d":0.67,"e":0.51,"f":1.08,"g":0.28},
{"x":2.2,"a":0.95,"b":1.0,"c":1.19,"d":0.52,"e":0.39,"f":0.93,"g":0.15},
{"x":2.25,"a":0.85,"b":0.86,"c":1.07,"d":0.4,"e":0.28,"f":0.78,"g":0.08},
{"x":2.3,"a":0.72,"b":0.72,"c":0.88,"d":0.28,"e":0.2,"f":0.62,"g":0.06},
{"x":2.35,"a":0.6,"b":0.58,"c":0.7,"d":0.18,"e":0.15,"f":0.51,"g":0.04},
{"x":2.4,"a":0.46,"b":0.43,"c":0.49,"d":0.14,"e":0.08,"f":0.39,"g":0.02},
{"x":2.45,"a":0.35,"b":0.32,"c":0.35,"d":0.1,"e":0.05,"f":0.29,"g":0.01},
{"x":2.5,"a":0.27,"b":0.24,"c":0.26,"d":0.06,"e":0.04,"f":0.2,"g":0.01},
{"x":2.55,"a":0.24,"b":0.17,"c":0.17,"d":0.04,"e":0.03,"f":0.14,"g":0.02},
{"x":2.6,"a":0.14,"b":0.1,"c":0.11,"d":0.03,"e":0.02,"f":0.09,"g":0.02},
{"x":2.65,"a":0.06,"b":0.06,"c":0.07,"d":0.02,"e":0.02,"f":0.06,"g":0.01},
{"x":2.7,"a":0.09,"b":0.04,"c":0.04,"d":0.02,"e":0,"f":0.04,"g":0.03},
{"x":2.75,"a":0.03,"b":0.03,"c":0.03,"d":0.01,"e":-0.03,"f":0.03,"g":0.02},
{"x":2.8,"a":-0.02,"b":0.05,"c":0.02,"d":0.01,"e":0.01,"f":0.02,"g":0.01},
{"x":2.85,"a":0.01,"b":0.02,"c":0.01,"d":0,"e":0,"f":0.01,"g":0.02},
{"x":2.9,"a":0.01,"b":0,"c":0.01,"d":0.01,"e":0.01,"f":0,"g":0.01},
{"x":2.95,"a":0.01,"b":-0.01,"c":0.01,"d":0,"e":0,"f":-0.01,"g":0.01},
{"x":3,"a":0,"b":0,"c":0.01,"d":0.01,"e":0.01,"f":0.01,"g":0}
]
},
"vconcat": [
{
 "width": 466, "height": 235,
 "layer": [
  {"data": {"name": "p1"},
   "transform": [{"fold": ["a","b","c","d","e","f","g"], "as": ["k","y"]}],
   "mark": {"type": "line", "strokeWidth": 2.2, "clip": true},
   "encoding": {
    "x": {"field": "x", "type": "quantitative", "scale": {"domain": [0,3], "nice": false, "zero": false}, "axis": {"orient": "bottom", "values": [0,0.1,0.2,0.3,0.4,0.5,0.6,0.7,0.8,0.9,1,1.1,1.2,1.3,1.4,1.5,1.6,1.7,1.8,1.9,2,2.1,2.2,2.3,2.4,2.5,2.6,2.7,2.8,2.9,3], "labels": false, "title": null}},
    "y": {"field": "y", "type": "quantitative", "scale": {"domain": [-0.095,1.585], "nice": false, "zero": false}, "axis": {"orient": "left", "values": [0,0.1,0.2,0.3,0.4,0.5,0.6,0.7,0.8,0.9,1,1.1,1.2,1.3,1.4,1.5], "labelExpr": "abs(datum.value*2-round(datum.value*2))<0.01 ? format(datum.value,'~g') : ''", "labelPadding": 14, "title": "IRM gradient", "titlePadding": 4.5}},
    "color": {"field": "k", "type": "nominal", "scale": {"domain": ["a","b","c","d","e","f","g"], "range": ["#0072BD","#D95319","#EDB120","#7E2F8E","#77AC30","#4DBEEE","#A2142F"]}, "legend": {"labelExpr": "['0.1 m','0.15 m','0.4 m','2 m','4 m','6 m','9 m'][indexof(['a','b','c','d','e','f','g'], datum.label)]"}}
   }},
  {"data": {"values": [{}]},
   "mark": {"type": "text", "align": "right", "baseline": "middle", "fontSize": 17, "fontWeight": "bold", "color": "#000000", "lineBreak": "\n", "lineHeight": 21},
   "encoding": {
    "x": {"datum": 2.875, "type": "quantitative", "axis": {"orient": "top", "values": [0,0.1,0.2,0.3,0.4,0.5,0.6,0.7,0.8,0.9,1,1.1,1.2,1.3,1.4,1.5,1.6,1.7,1.8,1.9,2,2.1,2.2,2.3,2.4,2.5,2.6,2.7,2.8,2.9,3], "labels": false, "title": null}},
    "y": {"datum": 1.39, "type": "quantitative", "axis": {"orient": "right", "values": [0,0.1,0.2,0.3,0.4,0.5,0.6,0.7,0.8,0.9,1,1.1,1.2,1.3,1.4,1.5], "labels": false, "title": null}},
    "text": {"value": "PC736"}
   }}
 ],
 "resolve": {"axis": {"x": "independent", "y": "independent"}}
},
{
 "width": 466, "height": 235,
 "layer": [
  {"data": {"name": "p2"},
   "transform": [{"fold": ["a","b","c","d","e","f","g"], "as": ["k","y"]}],
   "mark": {"type": "line", "strokeWidth": 2.2, "clip": true},
   "encoding": {
    "x": {"field": "x", "type": "quantitative", "scale": {"domain": [0,3], "nice": false, "zero": false}, "axis": {"orient": "bottom", "values": [0,0.1,0.2,0.3,0.4,0.5,0.6,0.7,0.8,0.9,1,1.1,1.2,1.3,1.4,1.5,1.6,1.7,1.8,1.9,2,2.1,2.2,2.3,2.4,2.5,2.6,2.7,2.8,2.9,3], "labels": false, "title": null}},
    "y": {"field": "y", "type": "quantitative", "scale": {"domain": [-0.095,1.585], "nice": false, "zero": false}, "axis": {"orient": "left", "values": [0,0.1,0.2,0.3,0.4,0.5,0.6,0.7,0.8,0.9,1,1.1,1.2,1.3,1.4,1.5], "labelExpr": "abs(datum.value*2-round(datum.value*2))<0.01 ? format(datum.value,'~g') : ''", "labelPadding": 14, "title": "IRM gradient", "titlePadding": 4.5}},
    "color": {"field": "k", "type": "nominal", "scale": {"domain": ["a","b","c","d","e","f","g"], "range": ["#0072BD","#D95319","#EDB120","#7E2F8E","#77AC30","#4DBEEE","#A2142F"]}, "legend": {"labelExpr": "['0.11 m','0.23 m','0.32 m','4.9 m','6.4 m','7.9 m','9.4 m'][indexof(['a','b','c','d','e','f','g'], datum.label)]"}}
   }},
  {"data": {"values": [{}]},
   "mark": {"type": "text", "align": "right", "baseline": "middle", "fontSize": 17, "fontWeight": "bold", "color": "#000000", "lineBreak": "\n", "lineHeight": 21},
   "encoding": {
    "x": {"datum": 2.875, "type": "quantitative", "axis": {"orient": "top", "values": [0,0.1,0.2,0.3,0.4,0.5,0.6,0.7,0.8,0.9,1,1.1,1.2,1.3,1.4,1.5,1.6,1.7,1.8,1.9,2,2.1,2.2,2.3,2.4,2.5,2.6,2.7,2.8,2.9,3], "labels": false, "title": null}},
    "y": {"datum": 1.39, "type": "quantitative", "axis": {"orient": "right", "values": [0,0.1,0.2,0.3,0.4,0.5,0.6,0.7,0.8,0.9,1,1.1,1.2,1.3,1.4,1.5], "labels": false, "title": null}},
    "text": {"value": "GBC731\nPC732"}
   }}
 ],
 "resolve": {"axis": {"x": "independent", "y": "independent"}}
},
{
 "width": 466, "height": 235,
 "layer": [
  {"data": {"name": "p3"},
   "transform": [{"fold": ["a","b","c","d","e","f","g"], "as": ["k","y"]}],
   "mark": {"type": "line", "strokeWidth": 2.2, "clip": true},
   "encoding": {
    "x": {"field": "x", "type": "quantitative", "scale": {"domain": [0,3], "nice": false, "zero": false}, "axis": {"orient": "bottom", "values": [0,0.1,0.2,0.3,0.4,0.5,0.6,0.7,0.8,0.9,1,1.1,1.2,1.3,1.4,1.5,1.6,1.7,1.8,1.9,2,2.1,2.2,2.3,2.4,2.5,2.6,2.7,2.8,2.9,3], "labels": false, "title": null}},
    "y": {"field": "y", "type": "quantitative", "scale": {"domain": [-0.095,1.585], "nice": false, "zero": false}, "axis": {"orient": "left", "values": [0,0.1,0.2,0.3,0.4,0.5,0.6,0.7,0.8,0.9,1,1.1,1.2,1.3,1.4,1.5], "labelExpr": "abs(datum.value*2-round(datum.value*2))<0.01 ? format(datum.value,'~g') : ''", "labelPadding": 14, "title": "IRM gradient", "titlePadding": 4.5}},
    "color": {"field": "k", "type": "nominal", "scale": {"domain": ["a","b","c","d","e","f","g"], "range": ["#0072BD","#D95319","#EDB120","#7E2F8E","#77AC30","#4DBEEE","#A2142F"]}, "legend": {"labelExpr": "['0.11 m','0.2 m','0.33 m','5.4 m','6.9 m','8.4 m','9.9 m'][indexof(['a','b','c','d','e','f','g'], datum.label)]"}}
   }},
  {"data": {"values": [{}]},
   "mark": {"type": "text", "align": "right", "baseline": "middle", "fontSize": 17, "fontWeight": "bold", "color": "#000000", "lineBreak": "\n", "lineHeight": 21},
   "encoding": {
    "x": {"datum": 2.875, "type": "quantitative", "axis": {"orient": "top", "values": [0,0.1,0.2,0.3,0.4,0.5,0.6,0.7,0.8,0.9,1,1.1,1.2,1.3,1.4,1.5,1.6,1.7,1.8,1.9,2,2.1,2.2,2.3,2.4,2.5,2.6,2.7,2.8,2.9,3], "labels": false, "title": null}},
    "y": {"datum": 1.39, "type": "quantitative", "axis": {"orient": "right", "values": [0,0.1,0.2,0.3,0.4,0.5,0.6,0.7,0.8,0.9,1,1.1,1.2,1.3,1.4,1.5], "labels": false, "title": null}},
    "text": {"value": "GBC730\nPC727"}
   }}
 ],
 "resolve": {"axis": {"x": "independent", "y": "independent"}}
},
{
 "width": 466, "height": 235,
 "layer": [
  {"data": {"name": "p4"},
   "transform": [{"fold": ["a","b","c","d","e","f"], "as": ["k","y"]}],
   "mark": {"type": "line", "strokeWidth": 2.2, "clip": true},
   "encoding": {
    "x": {"field": "x", "type": "quantitative", "scale": {"domain": [0,3], "nice": false, "zero": false}, "axis": {"orient": "bottom", "values": [0,0.1,0.2,0.3,0.4,0.5,0.6,0.7,0.8,0.9,1,1.1,1.2,1.3,1.4,1.5,1.6,1.7,1.8,1.9,2,2.1,2.2,2.3,2.4,2.5,2.6,2.7,2.8,2.9,3], "labels": false, "title": null}},
    "y": {"field": "y", "type": "quantitative", "scale": {"domain": [-0.095,1.585], "nice": false, "zero": false}, "axis": {"orient": "left", "values": [0,0.1,0.2,0.3,0.4,0.5,0.6,0.7,0.8,0.9,1,1.1,1.2,1.3,1.4,1.5], "labelExpr": "abs(datum.value*2-round(datum.value*2))<0.01 ? format(datum.value,'~g') : ''", "labelPadding": 14, "title": "IRM gradient", "titlePadding": 4.5}},
    "color": {"field": "k", "type": "nominal", "scale": {"domain": ["a","b","c","d","e","f"], "range": ["#0072BD","#D95319","#EDB120","#7E2F8E","#77AC30","#4DBEEE"]}, "legend": {"labelExpr": "['0.11 m','0.2 m','0.44 m','6 m','9 m','12 m'][indexof(['a','b','c','d','e','f'], datum.label)]"}}
   }},
  {"data": {"values": [{}]},
   "mark": {"type": "text", "align": "right", "baseline": "middle", "fontSize": 17, "fontWeight": "bold", "color": "#000000", "lineBreak": "\n", "lineHeight": 21},
   "encoding": {
    "x": {"datum": 2.875, "type": "quantitative", "axis": {"orient": "top", "values": [0,0.1,0.2,0.3,0.4,0.5,0.6,0.7,0.8,0.9,1,1.1,1.2,1.3,1.4,1.5,1.6,1.7,1.8,1.9,2,2.1,2.2,2.3,2.4,2.5,2.6,2.7,2.8,2.9,3], "labels": false, "title": null}},
    "y": {"datum": 1.39, "type": "quantitative", "axis": {"orient": "right", "values": [0,0.1,0.2,0.3,0.4,0.5,0.6,0.7,0.8,0.9,1,1.1,1.2,1.3,1.4,1.5], "labels": false, "title": null}},
    "text": {"value": "GBC725\nPC726"}
   }}
 ],
 "resolve": {"axis": {"x": "independent", "y": "independent"}}
},
{
 "width": 466, "height": 235,
 "layer": [
  {"data": {"name": "p5"},
   "transform": [{"fold": ["a","b","c","d","e","f","g"], "as": ["k","y"]}],
   "mark": {"type": "line", "strokeWidth": 2.2, "clip": true},
   "encoding": {
    "x": {"field": "x", "type": "quantitative", "scale": {"domain": [0,3], "nice": false, "zero": false}, "axis": {"orient": "bottom", "values": [0,0.1,0.2,0.3,0.4,0.5,0.6,0.7,0.8,0.9,1,1.1,1.2,1.3,1.4,1.5,1.6,1.7,1.8,1.9,2,2.1,2.2,2.3,2.4,2.5,2.6,2.7,2.8,2.9,3], "labels": false, "title": null}},
    "y": {"field": "y", "type": "quantitative", "scale": {"domain": [-0.095,1.585], "nice": false, "zero": false}, "axis": {"orient": "left", "values": [0,0.1,0.2,0.3,0.4,0.5,0.6,0.7,0.8,0.9,1,1.1,1.2,1.3,1.4,1.5], "labelExpr": "abs(datum.value*2-round(datum.value*2))<0.01 ? format(datum.value,'~g') : ''", "labelPadding": 14, "title": "IRM gradient", "titlePadding": 4.5}},
    "color": {"field": "k", "type": "nominal", "scale": {"domain": ["a","b","c","d","e","f","g"], "range": ["#0072BD","#D95319","#EDB120","#7E2F8E","#77AC30","#4DBEEE","#A2142F"]}, "legend": {"labelExpr": "['0.11 m','0.23 m','0.4 m','6.56 m','8.09 m','9.59 m','11.09 m'][indexof(['a','b','c','d','e','f','g'], datum.label)]"}}
   }},
  {"data": {"values": [{}]},
   "mark": {"type": "text", "align": "right", "baseline": "middle", "fontSize": 17, "fontWeight": "bold", "color": "#000000", "lineBreak": "\n", "lineHeight": 21},
   "encoding": {
    "x": {"datum": 2.875, "type": "quantitative", "axis": {"orient": "top", "values": [0,0.1,0.2,0.3,0.4,0.5,0.6,0.7,0.8,0.9,1,1.1,1.2,1.3,1.4,1.5,1.6,1.7,1.8,1.9,2,2.1,2.2,2.3,2.4,2.5,2.6,2.7,2.8,2.9,3], "labels": false, "title": null}},
    "y": {"datum": 1.39, "type": "quantitative", "axis": {"orient": "right", "values": [0,0.1,0.2,0.3,0.4,0.5,0.6,0.7,0.8,0.9,1,1.1,1.2,1.3,1.4,1.5], "labels": false, "title": null}},
    "text": {"value": "GBC724\nPC723"}
   }}
 ],
 "resolve": {"axis": {"x": "independent", "y": "independent"}}
},
{
 "width": 466, "height": 235,
 "layer": [
  {"data": {"name": "p6"},
   "transform": [{"fold": ["a","b","c","d","e","f","g"], "as": ["k","y"]}],
   "mark": {"type": "line", "strokeWidth": 2.2, "clip": true},
   "encoding": {
    "x": {"field": "x", "type": "quantitative", "scale": {"domain": [0,3], "nice": false, "zero": false}, "axis": {"orient": "bottom", "values": [0,0.1,0.2,0.3,0.4,0.5,0.6,0.7,0.8,0.9,1,1.1,1.2,1.3,1.4,1.5,1.6,1.7,1.8,1.9,2,2.1,2.2,2.3,2.4,2.5,2.6,2.7,2.8,2.9,3], "labelExpr": "abs(datum.value*2-round(datum.value*2))<0.01 ? format(datum.value,'~g') : ''", "labelPadding": 12, "title": "Log₁₀(Applied Field, mT)", "titlePadding": 6}},
    "y": {"field": "y", "type": "quantitative", "scale": {"domain": [-0.095,1.585], "nice": false, "zero": false}, "axis": {"orient": "left", "values": [0,0.1,0.2,0.3,0.4,0.5,0.6,0.7,0.8,0.9,1,1.1,1.2,1.3,1.4,1.5], "labelExpr": "abs(datum.value*2-round(datum.value*2))<0.01 ? format(datum.value,'~g') : ''", "labelPadding": 14, "title": "IRM gradient", "titlePadding": 4.5}},
    "color": {"field": "k", "type": "nominal", "scale": {"domain": ["a","b","c","d","e","f","g"], "range": ["#0072BD","#D95319","#EDB120","#7E2F8E","#77AC30","#4DBEEE","#A2142F"]}, "legend": {"labelExpr": "['0.11 m','0.2 m','0.34 m','6.91 m','8.41 m','9.92 m','12.93 m'][indexof(['a','b','c','d','e','f','g'], datum.label)]"}}
   }},
  {"data": {"values": [{}]},
   "mark": {"type": "text", "align": "right", "baseline": "middle", "fontSize": 17, "fontWeight": "bold", "color": "#000000", "lineBreak": "\n", "lineHeight": 21},
   "encoding": {
    "x": {"datum": 2.875, "type": "quantitative", "axis": {"orient": "top", "values": [0,0.1,0.2,0.3,0.4,0.5,0.6,0.7,0.8,0.9,1,1.1,1.2,1.3,1.4,1.5,1.6,1.7,1.8,1.9,2,2.1,2.2,2.3,2.4,2.5,2.6,2.7,2.8,2.9,3], "labels": false, "title": null}},
    "y": {"datum": 1.39, "type": "quantitative", "axis": {"orient": "right", "values": [0,0.1,0.2,0.3,0.4,0.5,0.6,0.7,0.8,0.9,1,1.1,1.2,1.3,1.4,1.5], "labels": false, "title": null}},
    "text": {"value": "GBC735\nPC734"}
   }}
 ],
 "resolve": {"axis": {"x": "independent", "y": "independent"}}
}
]
}
